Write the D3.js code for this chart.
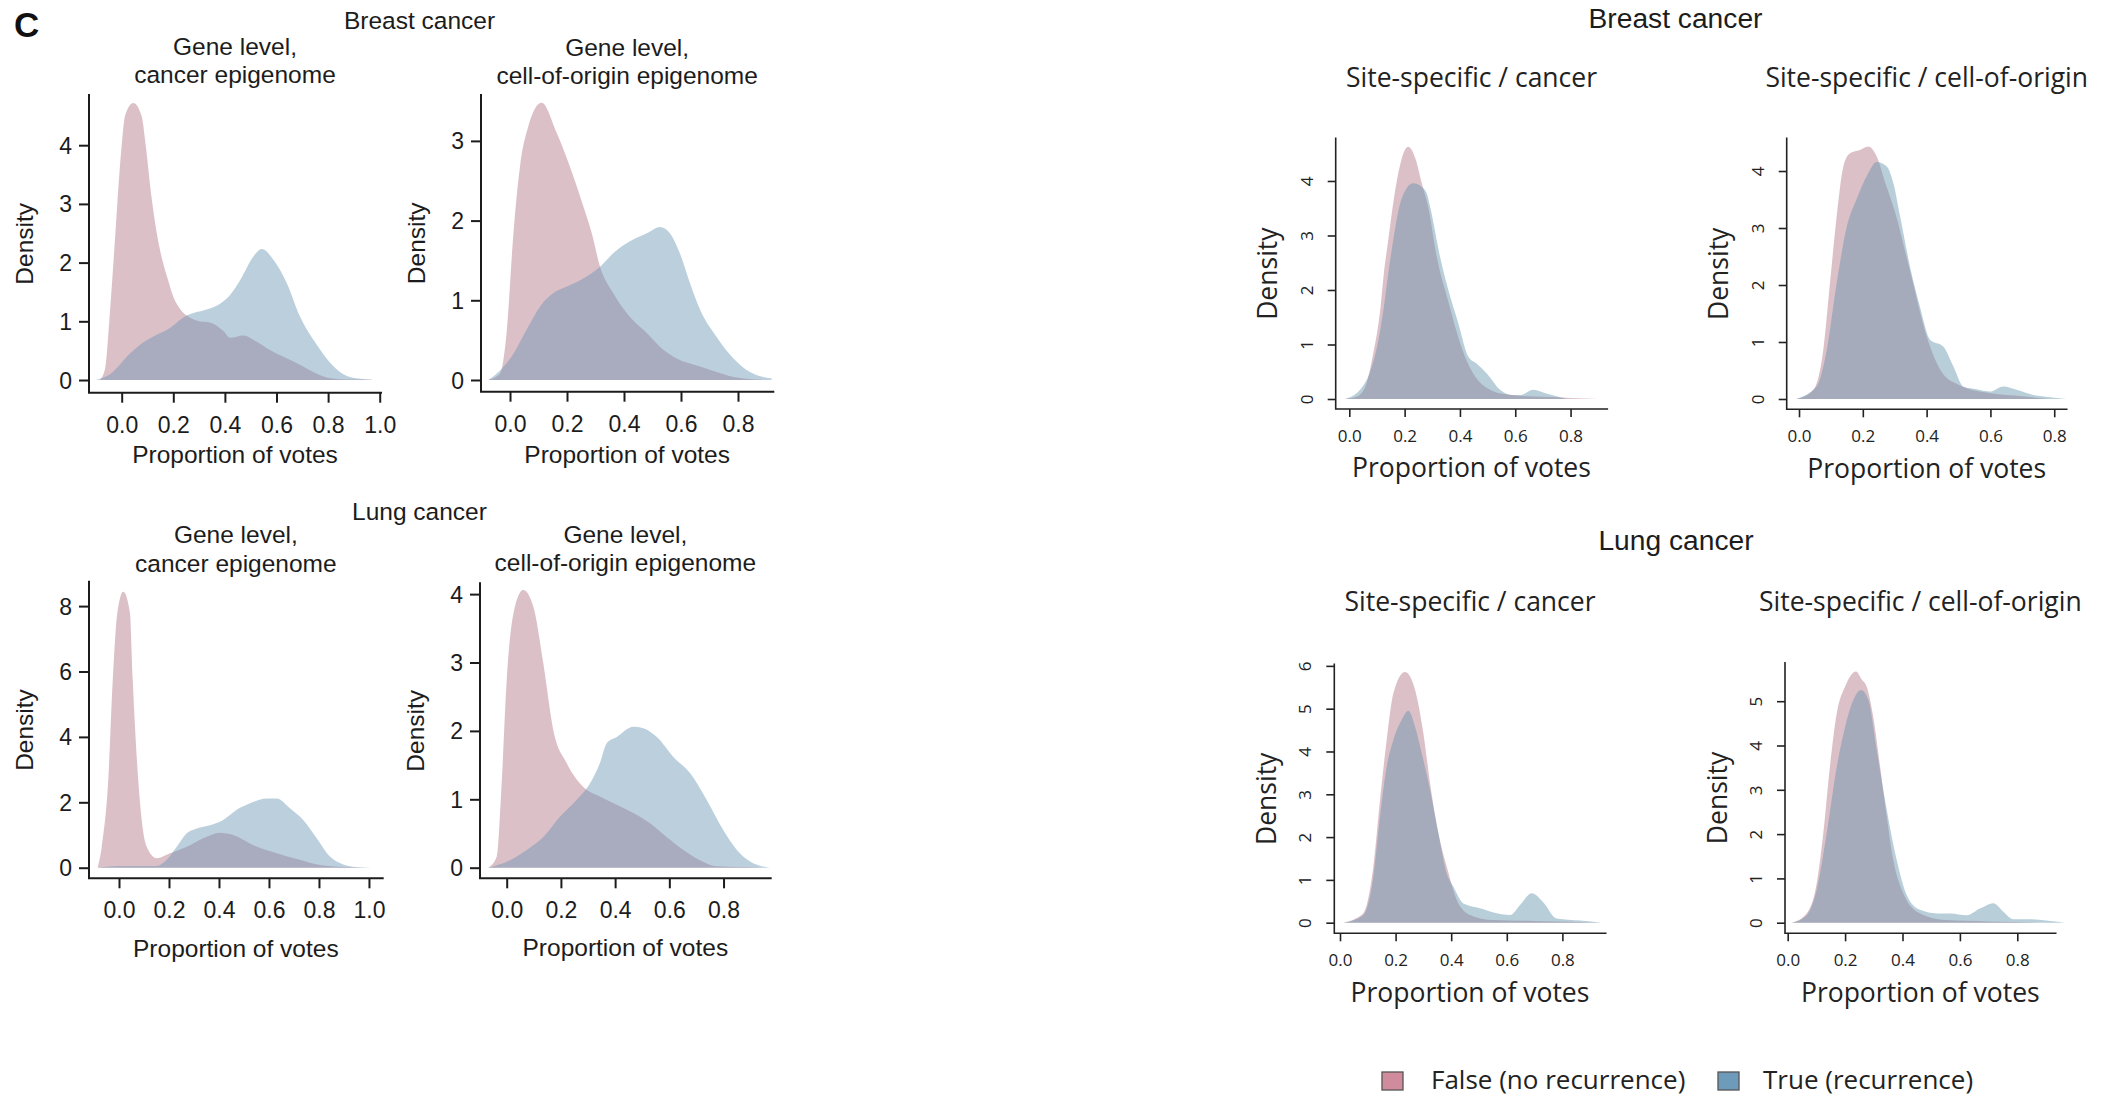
<!DOCTYPE html>
<html>
<head>
<meta charset="utf-8">
<script src="https://cdn.jsdelivr.net/npm/d3@7"></script>
<style>
  html, body { margin: 0; padding: 0; background: #fff; }
  svg { display: block; }
</style>
</head>
<body>
<div id="chart"></div>
<script>
// ---------------- DATA (density curves: [proportion of votes, density]) ----------------
// Breast cancer, gene level, cancer epigenome
const breastGeneCancerFalse = [[-0.085,0],[-0.064,0.2],[-0.048,1.0],[-0.032,2.0],[-0.017,3.0],[0.0,4.0],[0.013,4.5],[0.045,4.72],[0.077,4.5],[0.093,4.0],[0.116,3.1],[0.14,2.4],[0.16,2.0],[0.18,1.7],[0.2,1.42],[0.225,1.22],[0.258,1.08],[0.3,1.0],[0.34,0.98],[0.37,0.92],[0.395,0.83],[0.42,0.72],[0.471,0.76],[0.52,0.66],[0.575,0.51],[0.691,0.26],[0.76,0.1],[0.81,0.03],[0.88,0.01],[0.97,0.01]];
const breastGeneCancerTrue = [[-0.1,0],[-0.045,0.1],[0.032,0.45],[0.071,0.6],[0.123,0.74],[0.174,0.85],[0.252,1.1],[0.329,1.2],[0.381,1.3],[0.42,1.45],[0.459,1.7],[0.51,2.1],[0.543,2.23],[0.588,2.05],[0.64,1.65],[0.691,1.08],[0.756,0.6],[0.807,0.3],[0.859,0.1],[0.924,0.02],[0.97,0]];
// Breast cancer, gene level, cell-of-origin epigenome
const breastGeneOriginFalse = [[-0.076,0],[-0.035,0.08],[-0.012,0.59],[0.012,1.84],[0.035,2.68],[0.064,3.18],[0.111,3.48],[0.164,3.1],[0.21,2.68],[0.25,2.26],[0.287,1.84],[0.316,1.42],[0.362,1.09],[0.421,0.79],[0.48,0.59],[0.538,0.38],[0.585,0.27],[0.667,0.17],[0.725,0.1],[0.78,0.04],[0.889,0]];
const breastGeneOriginTrue = [[-0.076,0],[-0.035,0.12],[0.012,0.33],[0.058,0.63],[0.105,0.92],[0.152,1.09],[0.21,1.19],[0.269,1.3],[0.316,1.42],[0.362,1.59],[0.421,1.74],[0.48,1.84],[0.526,1.92],[0.561,1.84],[0.596,1.59],[0.632,1.21],[0.667,0.88],[0.725,0.54],[0.784,0.27],[0.842,0.1],[0.918,0.02]];
// Lung cancer, gene level, cancer epigenome
const lungGeneCancerFalse = [[-0.085,0],[-0.069,0.64],[-0.043,2.68],[-0.025,5.74],[-0.007,7.78],[0.017,8.44],[0.044,7.78],[0.055,5.74],[0.077,2.68],[0.095,1.2],[0.111,0.64],[0.151,0.29],[0.204,0.44],[0.271,0.64],[0.337,0.9],[0.404,1.07],[0.457,1.0],[0.537,0.69],[0.631,0.44],[0.724,0.24],[0.804,0.08],[0.9,0.02],[1.01,0]];
const lungGeneCancerTrue = [[-0.083,0],[0.0,0.05],[0.1,0.05],[0.151,0.05],[0.191,0.24],[0.231,0.64],[0.271,1.05],[0.311,1.2],[0.364,1.3],[0.417,1.46],[0.471,1.77],[0.524,1.97],[0.591,2.12],[0.631,2.12],[0.684,1.82],[0.737,1.46],[0.791,0.9],[0.844,0.34],[0.897,0.1],[0.95,0.02],[1.01,0]];
// Lung cancer, gene level, cell-of-origin epigenome
const lungGeneOriginFalse = [[-0.068,0],[-0.037,0.16],[-0.018,1.28],[0.0,2.74],[0.025,3.72],[0.061,4.06],[0.098,3.82],[0.135,2.99],[0.172,2.01],[0.221,1.53],[0.283,1.18],[0.344,1.04],[0.406,0.92],[0.467,0.8],[0.529,0.65],[0.59,0.45],[0.652,0.26],[0.713,0.11],[0.775,0.02],[0.86,0.01],[0.947,0]];
const lungGeneOriginTrue = [[-0.068,0],[0.012,0.11],[0.074,0.26],[0.135,0.45],[0.197,0.75],[0.258,0.99],[0.307,1.23],[0.344,1.53],[0.369,1.82],[0.406,1.91],[0.467,2.06],[0.504,2.04],[0.554,1.91],[0.615,1.62],[0.677,1.38],[0.738,0.99],[0.799,0.55],[0.849,0.26],[0.898,0.09],[0.97,0]];
// Breast cancer, site-specific / cancer
const breastSiteCancerFalse = [[-0.016,0],[0.03,0.05],[0.06,0.25],[0.085,0.8],[0.113,1.69],[0.125,2.31],[0.141,2.92],[0.157,3.53],[0.177,4.14],[0.195,4.5],[0.213,4.63],[0.24,4.4],[0.262,3.96],[0.285,3.53],[0.316,2.61],[0.36,1.75],[0.39,1.2],[0.418,0.78],[0.448,0.47],[0.509,0.17],[0.56,0.09],[0.62,0.06],[0.7,0.04],[0.8,0.02],[0.9,0]];
const breastSiteCancerTrue = [[-0.016,0],[0.039,0.17],[0.075,0.5],[0.1,0.95],[0.125,1.69],[0.141,2.31],[0.159,2.92],[0.181,3.53],[0.205,3.85],[0.231,3.96],[0.26,3.9],[0.28,3.77],[0.292,3.53],[0.328,2.61],[0.358,2.0],[0.394,1.39],[0.43,0.78],[0.46,0.65],[0.497,0.47],[0.545,0.17],[0.58,0.08],[0.617,0.07],[0.665,0.17],[0.713,0.1],[0.786,0]];
// Breast cancer, site-specific / cell-of-origin
const breastSiteOriginFalse = [[-0.007,0],[0.045,0.16],[0.076,0.86],[0.097,2.03],[0.118,3.2],[0.139,4.08],[0.16,4.31],[0.191,4.37],[0.217,4.43],[0.244,4.25],[0.27,3.8],[0.3,3.3],[0.35,2.2],[0.4,1.1],[0.45,0.45],[0.5,0.25],[0.6,0.1],[0.7,0.05],[0.78,0]];
const breastSiteOriginTrue = [[-0.01,0],[0.055,0.22],[0.087,0.86],[0.118,2.03],[0.15,3.03],[0.18,3.5],[0.212,3.91],[0.244,4.16],[0.275,4.08],[0.296,3.78],[0.317,3.2],[0.348,2.32],[0.379,1.62],[0.411,1.04],[0.452,0.92],[0.484,0.57],[0.515,0.22],[0.557,0.17],[0.599,0.13],[0.64,0.22],[0.682,0.16],[0.734,0.07],[0.787,0.03],[0.839,0]];
// Lung cancer, site-specific / cancer
const lungSiteCancerFalse = [[0.012,0],[0.084,0.22],[0.12,1.31],[0.144,2.87],[0.168,4.27],[0.192,5.36],[0.234,5.86],[0.27,5.44],[0.3,4.42],[0.324,3.26],[0.354,2.09],[0.384,1.31],[0.42,0.53],[0.468,0.18],[0.55,0.06],[0.7,0.04],[0.935,0]];
const lungSiteCancerTrue = [[0.014,0],[0.084,0.18],[0.12,1.08],[0.144,2.48],[0.168,3.65],[0.192,4.27],[0.222,4.74],[0.246,4.95],[0.27,4.58],[0.294,3.96],[0.324,3.1],[0.354,2.09],[0.384,1.15],[0.408,0.84],[0.444,0.45],[0.504,0.34],[0.564,0.22],[0.612,0.18],[0.647,0.41],[0.69,0.69],[0.731,0.48],[0.779,0.1],[0.863,0.05],[0.941,0]];
// Lung cancer, site-specific / cell-of-origin
const lungSiteOriginFalse = [[0.014,0],[0.066,0.21],[0.101,0.89],[0.124,2.02],[0.147,3.52],[0.171,4.73],[0.2,5.33],[0.238,5.67],[0.258,5.49],[0.275,5.33],[0.298,4.65],[0.322,3.52],[0.345,2.4],[0.368,1.41],[0.403,0.66],[0.461,0.21],[0.55,0.06],[0.7,0.03],[0.902,0]];
const lungSiteOriginTrue = [[0.014,0],[0.066,0.17],[0.101,0.74],[0.136,2.02],[0.171,3.52],[0.2,4.42],[0.229,5.03],[0.255,5.25],[0.281,5.03],[0.31,3.9],[0.345,2.55],[0.38,1.41],[0.415,0.62],[0.461,0.29],[0.519,0.21],[0.566,0.21],[0.624,0.17],[0.67,0.32],[0.717,0.44],[0.751,0.25],[0.786,0.08],[0.832,0.08],[0.9,0.05],[0.966,0]];

// Tick values
const xTicksTo1 = [0, 0.2, 0.4, 0.6, 0.8, 1.0];
const xTicksTo08 = [0, 0.2, 0.4, 0.6, 0.8];
const yTicks4 = [0, 1, 2, 3, 4];
const yTicks3 = [0, 1, 2, 3];
const yTicks8 = [0, 2, 4, 6, 8];
const yTicks6 = [0, 1, 2, 3, 4, 5, 6];
const yTicks5 = [0, 1, 2, 3, 4, 5];

// Text
const panelLetter = "C";
const sectionTitles = ["Breast cancer", "Lung cancer"];
const geneTitles = [["Gene level,", "cancer epigenome"], ["Gene level,", "cell-of-origin epigenome"]];
const siteTitles = ["Site-specific / cancer", "Site-specific / cell-of-origin"];
const xAxisTitle = "Proportion of votes";
const yAxisTitle = "Density";
const legendLabels = ["False (no recurrence)", "True (recurrence)"];

// ---------------- STYLE / LAYOUT ----------------
const W = 2105, H = 1098;
const FONT_L = "'Liberation Sans', Arial, Helvetica, sans-serif";
const FONT_R = "'Open Sans', 'Noto Sans', sans-serif";
const PINK = "rgba(177,115,133,0.45)";
const BLUE_L = "rgba(106,148,179,0.45)";
const BLUE_R = "rgba(98,146,170,0.45)";
const LEGEND_COLORS = ["#d08c9c", "#6f9bbb"];

const styleL = { font: FONT_L, tickFont: 23, labelFont: 24.5, color: "#1c1c1c", stroke: 2, tick: 10, xLabOff: 40, yLabPad: 17, densOff: 56, blue: BLUE_L };
const styleR = { font: FONT_R, tickFont: 17, labelFont: 26.5, color: "#222", stroke: 1.6, tick: 8, xLabOff: 32.7, yLabOff: 23, densOff: 58.5, blue: BLUE_R };

const panels = [
  { pink: breastGeneCancerFalse, blue: breastGeneCancerTrue, st: styleL, box: {l: 89, r: 381, t: 95, b: 392.7},
    xDom: [-0.1267, 1.005], yDom: [-0.216, 4.855], xTicks: xTicksTo1, yTicks: yTicks4,
    title: geneTitles[0], titleY: [55, 83.3], xTitleOff: 70.6 },
  { pink: breastGeneOriginFalse, blue: breastGeneOriginTrue, st: styleL, box: {l: 481, r: 773.3, t: 95, b: 391.7},
    xDom: [-0.1018, 0.9239], yDom: [-0.147, 3.576], xTicks: xTicksTo08, yTicks: yTicks3,
    title: geneTitles[1], titleY: [56, 84], xTitleOff: 71.6 },
  { pink: lungGeneCancerFalse, blue: lungGeneCancerTrue, st: styleL, box: {l: 89, r: 382.7, t: 581.7, b: 878.3},
    xDom: [-0.12, 1.055], yDom: [-0.324, 8.746], xTicks: xTicksTo1, yTicks: yTicks8,
    title: geneTitles[0], titleY: [543.3, 571.5], xTitleOff: 78.2 },
  { pink: lungGeneOriginFalse, blue: lungGeneOriginTrue, st: styleL, box: {l: 480, r: 770.7, t: 583.3, b: 878.3},
    xDom: [-0.0985, 0.974], yDom: [-0.155, 4.158], xTicks: xTicksTo08, yTicks: yTicks4,
    title: geneTitles[1], titleY: [543.3, 571], xTitleOff: 77.7 },
  { pink: breastSiteCancerFalse, blue: breastSiteCancerTrue, st: styleR, box: {l: 1335.7, r: 1607.3, t: 138.3, b: 409},
    xDom: [-0.0492, 0.9328], yDom: [-0.1835, 4.783], xTicks: xTicksTo08, yTicks: yTicks4,
    title: [siteTitles[0]], titleY: [87.3], xTitleOff: 68.3 },
  { pink: breastSiteOriginFalse, blue: breastSiteOriginTrue, st: styleR, box: {l: 1786.7, r: 2066.7, t: 138.3, b: 409.3},
    xDom: [-0.0386, 0.8391], yDom: [-0.181, 4.574], xTicks: xTicksTo08, yTicks: yTicks4,
    title: [siteTitles[1]], titleY: [87.3], xTitleOff: 68.3 },
  { pink: lungSiteCancerFalse, blue: lungSiteCancerTrue, st: styleR, box: {l: 1334.3, r: 1605.7, t: 664.3, b: 933.3},
    xDom: [-0.0205, 0.9558], yDom: [-0.248, 6.037], xTicks: xTicksTo08, yTicks: yTicks6,
    title: [siteTitles[0]], titleY: [610.7], xTitleOff: 68.4 },
  { pink: lungSiteOriginFalse, blue: lungSiteOriginTrue, st: styleR, box: {l: 1785, r: 2055.7, t: 662.7, b: 933.3},
    xDom: [-0.0094, 0.9338], yDom: [-0.239, 5.869], xTicks: xTicksTo08, yTicks: yTicks5,
    title: [siteTitles[1]], titleY: [610.7], xTitleOff: 68.4 }
];

// ---------------- DRAW ----------------
const svg = d3.select("#chart").append("svg")
  .attr("width", W).attr("height", H)
  .attr("viewBox", `0 0 ${W} ${H}`);
svg.append("rect").attr("width", W).attr("height", H).attr("fill", "#fff");

function drawPanel(p) {
  const st = p.st;
  const g = svg.append("g");
  const x = d3.scaleLinear().domain(p.xDom).range([p.box.l, p.box.r]);
  const y = d3.scaleLinear().domain(p.yDom).range([p.box.b, p.box.t]);
  const area = d3.area()
    .x(d => x(d[0]))
    .y0(y(0))
    .y1(d => y(d[1]))
    .curve(d3.curveMonotoneX);

  g.append("path").datum(p.pink).attr("d", area).attr("fill", PINK);
  g.append("path").datum(p.blue).attr("d", area).attr("fill", st.blue);

  // x axis
  const xa = g.append("g").attr("transform", `translate(0,${p.box.b})`)
    .call(d3.axisBottom(x).tickValues(p.xTicks).tickFormat(d3.format(".1f")).tickSize(st.tick));
  xa.select(".domain").remove();
  xa.selectAll(".tick line").attr("stroke", st.color).attr("stroke-width", st.stroke);
  xa.selectAll(".tick text")
    .attr("y", st.xLabOff).attr("dy", 0)
    .attr("fill", st.color)
    .style("font-family", st.font).style("font-size", st.tickFont + "px");

  // y axis
  const ya = g.append("g").attr("transform", `translate(${p.box.l},0)`)
    .call(d3.axisLeft(y).tickValues(p.yTicks).tickFormat(d3.format("d")).tickSize(st.tick));
  ya.select(".domain").remove();
  ya.selectAll(".tick line").attr("stroke", st.color).attr("stroke-width", st.stroke);
  const yt = ya.selectAll(".tick text")
    .attr("fill", st.color)
    .style("font-family", st.font).style("font-size", st.tickFont + "px");
  if (st === styleL) {
    yt.attr("x", -st.yLabPad).attr("dy", "0.35em").attr("text-anchor", "end");
  } else {
    yt.attr("transform", "rotate(-90)").attr("x", 0).attr("y", -st.yLabOff).attr("dy", 0).attr("text-anchor", "middle");
  }

  // L-shaped frame
  g.append("path")
    .attr("d", d3.line()([[p.box.l, p.box.t], [p.box.l, p.box.b], [p.box.r, p.box.b]]))
    .attr("fill", "none").attr("stroke", st.color).attr("stroke-width", st.stroke)
    .attr("stroke-linecap", "square");

  const cx = (p.box.l + p.box.r) / 2;
  // x title
  g.append("text").attr("x", cx).attr("y", p.box.b + p.xTitleOff)
    .attr("text-anchor", "middle").attr("fill", st.color)
    .style("font-family", st.font).style("font-size", st.labelFont + "px")
    .text(xAxisTitle);
  // y title
  g.append("text")
    .attr("transform", `translate(${p.box.l - st.densOff},${(p.box.t + p.box.b) / 2}) rotate(-90)`)
    .attr("text-anchor", "middle").attr("fill", st.color)
    .style("font-family", st.font).style("font-size", st.labelFont + "px")
    .text(yAxisTitle);
  // panel title
  p.title.forEach((t, i) => {
    g.append("text").attr("x", cx).attr("y", p.titleY[i])
      .attr("text-anchor", "middle").attr("fill", st.color)
      .style("font-family", st.font).style("font-size", st.labelFont + "px")
      .text(t);
  });
}

panels.forEach(drawPanel);

// Panel letter
svg.append("text").attr("x", 14).attr("y", 36.7)
  .style("font-family", FONT_L).style("font-size", "35px").style("font-weight", "bold")
  .attr("fill", "#111").text(panelLetter);

// Section headers
const headers = [
  { t: sectionTitles[0], x: 419.5, y: 29.3, size: 24.5 },
  { t: sectionTitles[1], x: 419.5, y: 520, size: 24.5 },
  { t: sectionTitles[0], x: 1675.5, y: 27.5, size: 28.2 },
  { t: sectionTitles[1], x: 1676, y: 550, size: 28.2 }
];
headers.forEach(h => {
  svg.append("text").attr("x", h.x).attr("y", h.y).attr("text-anchor", "middle")
    .attr("fill", "#1c1c1c")
    .style("font-family", FONT_L).style("font-size", h.size + "px")
    .text(h.t);
});

// Legend
const legendPos = [{ sx: 1382, tx: 1431 }, { sx: 1718, tx: 1763 }];
legendLabels.forEach((lab, i) => {
  svg.append("rect").attr("x", legendPos[i].sx).attr("y", 1072).attr("width", 21).attr("height", 18)
    .attr("fill", LEGEND_COLORS[i]).attr("stroke", "#555").attr("stroke-width", 1.3);
  svg.append("text").attr("x", legendPos[i].tx).attr("y", 1089)
    .attr("fill", "#222")
    .style("font-family", FONT_R).style("font-size", "26px")
    .text(lab);
});
</script>
</body>
</html>
